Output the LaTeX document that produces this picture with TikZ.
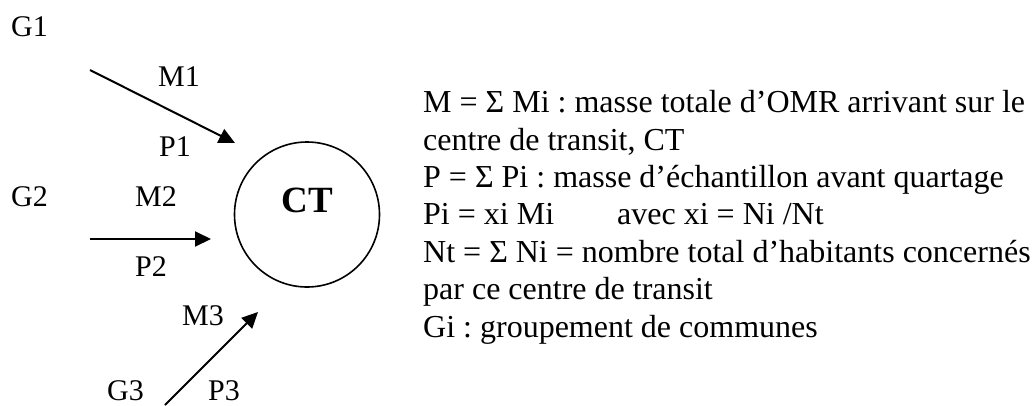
\documentclass[tikz,border=0pt]{standalone}
\usepackage{fontspec}
\setmainfont{Liberation Serif}
\usetikzlibrary{arrows.meta}
\frenchspacing
\tikzset{
  lbl/.style={font=\fontsize{30}{36}\selectfont, inner sep=0pt, anchor=base west},
  flow/.style={line width=2pt, -{Triangle[length=16pt,width=15pt]}},
  centre/.style={circle, draw, line width=1.6pt, minimum size=145pt, inner sep=0pt},
}
\begin{document}
\begin{tikzpicture}[x=1pt,y=-1pt]
\useasboundingbox (0,0) rectangle (1035,405);

% transit centre
\node[centre] (ct) at (307,214.5) {};
\node[font=\fontsize{37}{40}\selectfont\bfseries, inner sep=0pt, anchor=base] (ctlabel) at (307,212) {CT};

% groups of communes and their flows
\node[lbl] (g1) at (11,36) {G1};
\node[lbl] (m1) at (158,86) {M1};
\node[lbl] (p1) at (159,156) {P1};
\node[lbl] (g2) at (11,206) {G2};
\node[lbl] (m2) at (135,206) {M2};
\node[lbl] (p2) at (135,276) {P2};
\node[lbl] (m3) at (182,325) {M3};
\node[lbl] (g3) at (107,400) {G3};
\node[lbl] (p3) at (208,400) {P3};

\coordinate (f1s) at (90,70);
\coordinate (f1e) at (235,143);
\coordinate (f2s) at (90,239);
\coordinate (f2e) at (211,239);
\coordinate (f3s) at (165,405);
\coordinate (f3e) at (258,312);
\draw[flow] (f1s) -- (f1e);
\draw[flow] (f2s) -- (f2e);
\draw[flow] (f3s) -- (f3e);

% definitions (anchored on the baseline of the last line)
\node[font=\fontsize{32}{37.4}\selectfont, inner sep=0pt, anchor=base west, align=left] (legend) at (423,337)
{M = Σ Mi : masse totale d’OMR arrivant sur le\\
centre de transit, CT\\
P = Σ Pi : masse d’échantillon avant quartage\\
\makebox[194pt][l]{Pi = xi Mi}avec xi = Ni /Nt\\
Nt = Σ Ni = nombre total d’habitants concernés\\
par ce centre de transit\\
Gi : groupement de communes};
\end{tikzpicture}
\end{document}
